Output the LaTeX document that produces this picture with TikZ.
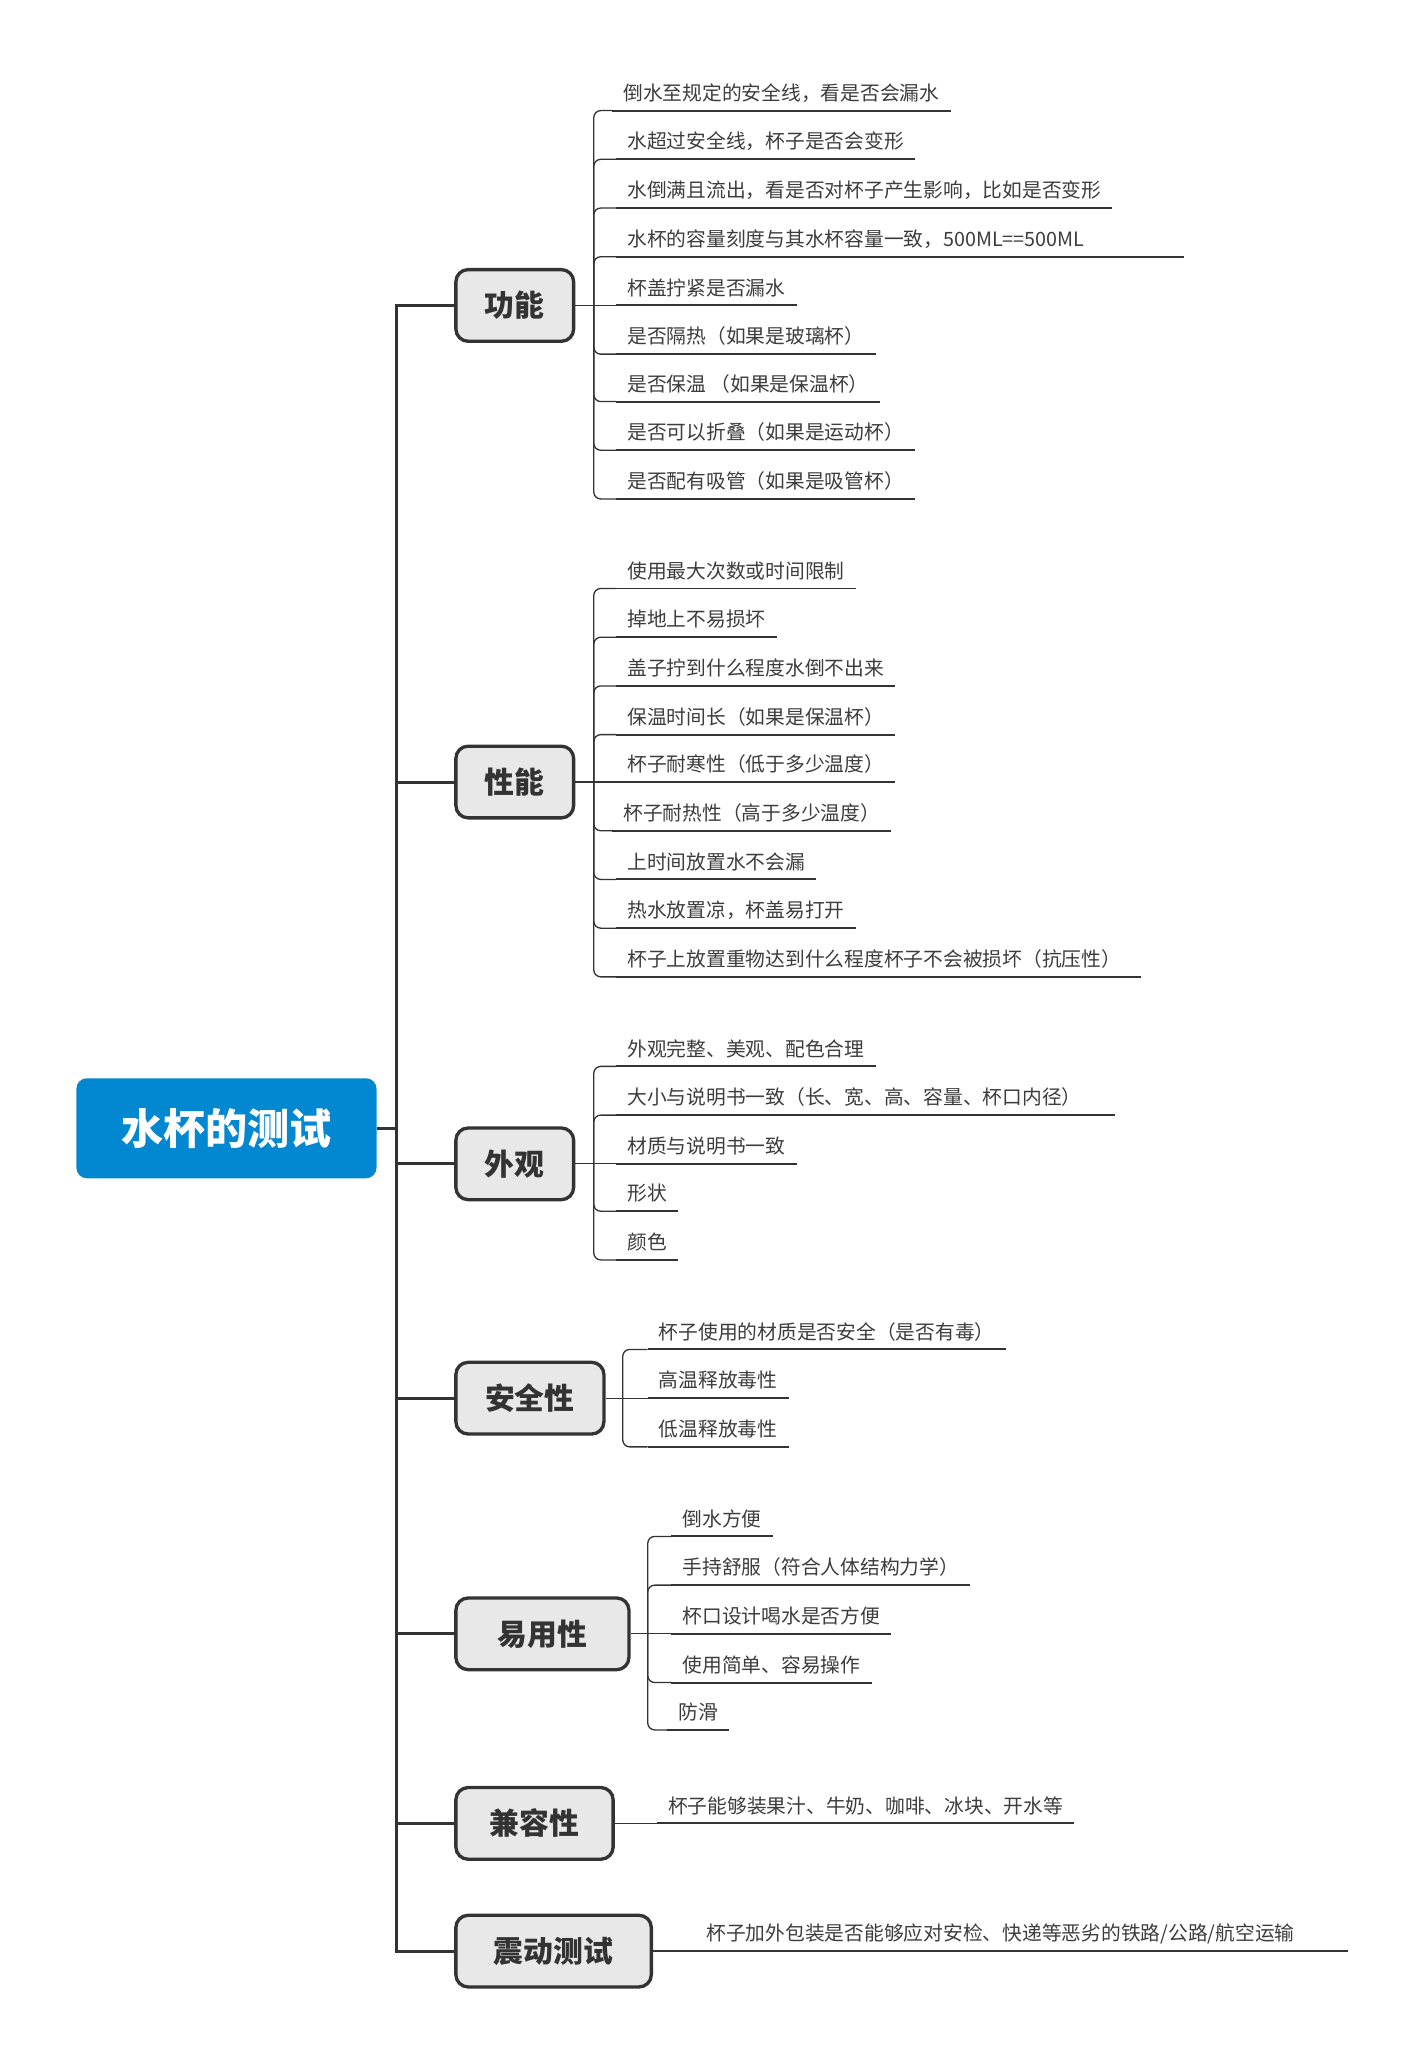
\documentclass[tikz,border=0pt]{standalone}
\usepackage{fontspec}
\setmainfont{Noto Sans CJK SC}

\definecolor{linegray}{HTML}{333333}
\definecolor{leafgray}{HTML}{3C3C3C}
\definecolor{topicgray}{HTML}{E8E8E8}
\definecolor{rootblue}{HTML}{0288D1}

\tikzset{every picture/.style={line width=0.75pt}}
\tikzset{
  rootbox/.style={fill=rootblue, text=white, rounded corners=6pt, minimum width=171pt, minimum height=57pt, inner sep=0pt, font=\fontsize{24}{28}\selectfont\bfseries},
  topic/.style={anchor=west, draw=linegray, line width=1.9pt, fill=topicgray, rounded corners=7pt, minimum height=40.85pt, inner sep=0pt, text=linegray, font=\fontsize{17}{20}\selectfont\bfseries},
  leaf/.style={anchor=south west, inner xsep=6pt, inner ysep=4.5pt, text height=0.8em, text depth=0.1em, text=leafgray, font=\fontsize{11.25}{13.5}\selectfont},
  trunk/.style={draw=linegray, line width=1.7pt},
  stem/.style={draw=linegray, line width=0.75pt},
  brk/.style={draw=linegray, line width=0.75pt, rounded corners=4pt},
  uline/.style={draw=linegray, line width=1.1pt},
}

\begin{document}
\begin{tikzpicture}[x=0.75pt,y=0.75pt,yscale=-1,xscale=1]
\path[use as bounding box] (0,0) rectangle (1080,1567);

% Root
\node[rootbox] (root) at (172,857) {水杯的测试};
\coordinate (tr) at (301,857);

% Topics
\node[topic, minimum width=67.1pt] (gn) at (345,232) {功能};
\node[topic, minimum width=67.1pt] (xn) at (345,594) {性能};
\node[topic, minimum width=67.1pt] (wg) at (345,884) {外观};
\node[topic, minimum width=84.35pt] (aq) at (345,1062) {安全性};
\node[topic, minimum width=98.6pt] (yy) at (345,1241) {易用性};
\node[topic, minimum width=89.6pt] (jr) at (345,1385) {兼容性};
\node[topic, minimum width=111.35pt] (zd) at (345,1482) {震动测试};

% Trunk
\draw[trunk] (root.east) -- (tr);
\draw[trunk] (tr) |- (gn.west);
\draw[trunk] (tr) |- (xn.west);
\draw[trunk] (tr) |- (wg.west);
\draw[trunk] (tr) |- (aq.west);
\draw[trunk] (tr) |- (yy.west);
\draw[trunk] (tr) |- (jr.west);
\draw[trunk] (tr) |- (zd.west);

% Text Node -- 功能
\node[leaf] (gn1) at (465,84) {倒水至规定的安全线，看是否会漏水};
\node[leaf] (gn2) at (468,121) {水超过安全线，杯子是否会变形};
\node[leaf] (gn3) at (468,158) {水倒满且流出，看是否对杯子产生影响，比如是否变形};
\node[leaf, text width=311pt, align=left] (gn4) at (468,195) {水杯的容量刻度与其水杯容量一致，500ML==500ML};
\node[leaf] (gn5) at (468,232) {杯盖拧紧是否漏水};
\node[leaf] (gn6) at (468,269) {是否隔热（如果是玻璃杯）};
\node[leaf] (gn7) at (468,305) {是否保温 （如果是保温杯）};
\node[leaf] (gn8) at (468,342) {是否可以折叠（如果是运动杯）};
\node[leaf] (gn9) at (468,379) {是否配有吸管（如果是吸管杯）};
\coordinate (gnb) at (451,232);

% Connection -- 功能
\draw[stem] (gn.east) -- (gnb);
\draw[brk] (gnb) |- (gn1.south west);  \draw[uline] (gn1.south west) -- (gn1.south east);
\draw[brk] (gnb) |- (gn2.south west);  \draw[uline] (gn2.south west) -- (gn2.south east);
\draw[brk] (gnb) |- (gn3.south west);  \draw[uline] (gn3.south west) -- (gn3.south east);
\draw[brk] (gnb) |- (gn4.south west);  \draw[uline] (gn4.south west) -- (gn4.south east);
\draw[brk] (gnb) -- (gn5.south west);  \draw[uline] (gn5.south west) -- (gn5.south east);
\draw[brk] (gnb) |- (gn6.south west);  \draw[uline] (gn6.south west) -- (gn6.south east);
\draw[brk] (gnb) |- (gn7.south west);  \draw[uline] (gn7.south west) -- (gn7.south east);
\draw[brk] (gnb) |- (gn8.south west);  \draw[uline] (gn8.south west) -- (gn8.south east);
\draw[brk] (gnb) |- (gn9.south west);  \draw[uline] (gn9.south west) -- (gn9.south east);

% Text Node -- 性能
\node[leaf] (xn1) at (468,447) {使用最大次数或时间限制};
\node[leaf] (xn2) at (468,484) {掉地上不易损坏};
\node[leaf] (xn3) at (468,521) {盖子拧到什么程度水倒不出来};
\node[leaf] (xn4) at (468,558) {保温时间长（如果是保温杯）};
\node[leaf] (xn5) at (468,594) {杯子耐寒性（低于多少温度）};
\node[leaf] (xn6) at (465,631) {杯子耐热性（高于多少温度）};
\node[leaf] (xn7) at (468,668) {上时间放置水不会漏};
\node[leaf] (xn8) at (468,705) {热水放置凉，杯盖易打开};
\node[leaf, text width=286.5pt, align=left] (xn9) at (468,742) {杯子上放置重物达到什么程度杯子不会被损坏（抗压性）};
\coordinate (xnb) at (451,594);

% Connection -- 性能
\draw[stem] (xn.east) -- (xnb);
\draw[brk] (xnb) |- (xn1.south west);  \draw[uline] (xn1.south west) -- (xn1.south east);
\draw[brk] (xnb) |- (xn2.south west);  \draw[uline] (xn2.south west) -- (xn2.south east);
\draw[brk] (xnb) |- (xn3.south west);  \draw[uline] (xn3.south west) -- (xn3.south east);
\draw[brk] (xnb) |- (xn4.south west);  \draw[uline] (xn4.south west) -- (xn4.south east);
\draw[brk] (xnb) -- (xn5.south west);  \draw[uline] (xn5.south west) -- (xn5.south east);
\draw[brk] (xnb) |- (xn6.south west);  \draw[uline] (xn6.south west) -- (xn6.south east);
\draw[brk] (xnb) |- (xn7.south west);  \draw[uline] (xn7.south west) -- (xn7.south east);
\draw[brk] (xnb) |- (xn8.south west);  \draw[uline] (xn8.south west) -- (xn8.south east);
\draw[brk] (xnb) |- (xn9.south west);  \draw[uline] (xn9.south west) -- (xn9.south east);

% Text Node -- 外观
\node[leaf] (wg1) at (468,810) {外观完整、美观、配色合理};
\node[leaf, text width=271.5pt, align=left] (wg2) at (468,847) {大小与说明书一致（长、宽、高、容量、杯口内径）};
\node[leaf] (wg3) at (468,884) {材质与说明书一致};
\node[leaf] (wg4) at (468,920) {形状};
\node[leaf] (wg5) at (468,957) {颜色};
\coordinate (wgb) at (451,884);

% Connection -- 外观
\draw[stem] (wg.east) -- (wgb);
\draw[brk] (wgb) |- (wg1.south west);  \draw[uline] (wg1.south west) -- (wg1.south east);
\draw[brk] (wgb) |- (wg2.south west);  \draw[uline] (wg2.south west) -- (wg2.south east);
\draw[brk] (wgb) -- (wg3.south west);  \draw[uline] (wg3.south west) -- (wg3.south east);
\draw[brk] (wgb) |- (wg4.south west);  \draw[uline] (wg4.south west) -- (wg4.south east);
\draw[brk] (wgb) |- (wg5.south west);  \draw[uline] (wg5.south west) -- (wg5.south east);

% Text Node -- 安全性
\node[leaf] (aq1) at (492,1025) {杯子使用的材质是否安全（是否有毒）};
\node[leaf] (aq2) at (492,1062) {高温释放毒性};
\node[leaf] (aq3) at (492,1099) {低温释放毒性};
\coordinate (aqb) at (473,1062);

% Connection -- 安全性
\draw[stem] (aq.east) -- (aqb);
\draw[brk] (aqb) |- (aq1.south west);  \draw[uline] (aq1.south west) -- (aq1.south east);
\draw[brk] (aqb) -- (aq2.south west);  \draw[uline] (aq2.south west) -- (aq2.south east);
\draw[brk] (aqb) |- (aq3.south west);  \draw[uline] (aq3.south west) -- (aq3.south east);

% Text Node -- 易用性
\node[leaf] (yy1) at (510,1167) {倒水方便};
\node[leaf] (yy2) at (510,1204) {手持舒服（符合人体结构力学）};
\node[leaf] (yy3) at (510,1241) {杯口设计喝水是否方便};
\node[leaf] (yy4) at (510,1278) {使用简单、容易操作};
\node[leaf] (yy5) at (507,1314) {防滑};
\coordinate (yyb) at (492,1241);

% Connection -- 易用性
\draw[stem] (yy.east) -- (yyb);
\draw[brk] (yyb) |- (yy1.south west);  \draw[uline] (yy1.south west) -- (yy1.south east);
\draw[brk] (yyb) |- (yy2.south west);  \draw[uline] (yy2.south west) -- (yy2.south east);
\draw[brk] (yyb) -- (yy3.south west);  \draw[uline] (yy3.south west) -- (yy3.south east);
\draw[brk] (yyb) |- (yy4.south west);  \draw[uline] (yy4.south west) -- (yy4.south east);
\draw[brk] (yyb) |- (yy5.south west);  \draw[uline] (yy5.south west) -- (yy5.south east);

% Text Node -- 兼容性
\node[leaf] (jr1) at (499,1385) {杯子能够装果汁、牛奶、咖啡、冰块、开水等};

% Connection -- 兼容性
\draw[stem] (jr.east) -- (jr1.south west);  \draw[uline] (jr1.south west) -- (jr1.south east);

% Text Node -- 震动测试
\node[leaf, text width=359pt, align=left] (zd1) at (528,1482) {杯子加外包装是否能够应对安检、快递等恶劣的铁路/公路/航空运输};

% Connection -- 震动测试
\draw[stem] (zd.east) -- (zd1.south west);  \draw[uline] (zd1.south west) -- (zd1.south east);

\end{tikzpicture}
\end{document}
